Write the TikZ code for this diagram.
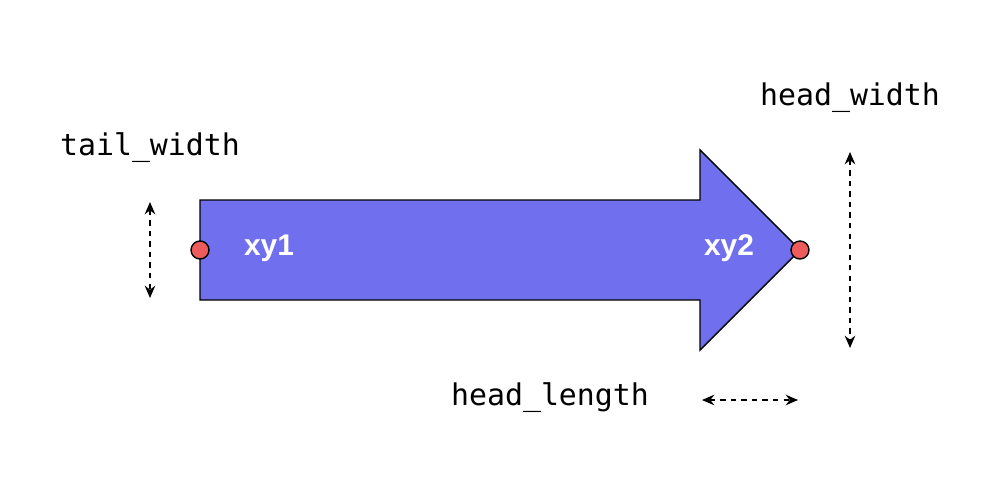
\documentclass[tikz,border=0pt]{standalone}
\usepackage{fontspec}
\setmainfont{Liberation Sans}
\setmonofont{DejaVu Sans Mono}
\usetikzlibrary{arrows.meta}
\definecolor{arrowfill}{HTML}{7070EE}
\definecolor{ptred}{HTML}{EE5B5B}

\begin{document}
\begin{tikzpicture}[x=0.02cm,y=-0.02cm]
\tikzset{
  dim/.style={dashed,thick,{Stealth[length=7pt,width=6pt]}-{Stealth[length=7pt,width=6pt]}},
  lbl/.style={font=\fontsize{17}{20}\selectfont\ttfamily},
  pt/.style={circle,draw,thick,fill=ptred,minimum size=18*0.02cm,inner sep=0pt},
  xy/.style={text=white,font=\fontsize{17}{20}\selectfont\bfseries}
}
\useasboundingbox (0,0) rectangle (1000,500);
% arrow body
\draw[fill=arrowfill,line width=0.8pt] (200,200) -- (700,200) -- (700,150) -- (800,250)
  -- (700,350) -- (700,300) -- (200,300) -- cycle;
\node[pt] (p1) at (200,250) {};
\node[pt] (p2) at (800,250) {};
\node[xy] (xy1) at (269,248) {xy1};
\node[xy] (xy2) at (729,248) {xy2};
% dimensions
\coordinate (tw1) at (150,202);
\coordinate (tw2) at (150,298);
\coordinate (hw1) at (850,152);
\coordinate (hw2) at (850,348);
\coordinate (hl1) at (702,400);
\coordinate (hl2) at (798,400);
\draw[dim] (tw1) -- (tw2);
\draw[dim] (hw1) -- (hw2);
\draw[dim] (hl1) -- (hl2);
\node[lbl] (tl) at (150,148) {tail\_width};
\node[lbl] (hwl) at (850,98) {head\_width};
\node[lbl] (hll) at (550,398) {head\_length};
\end{tikzpicture}
\end{document}
